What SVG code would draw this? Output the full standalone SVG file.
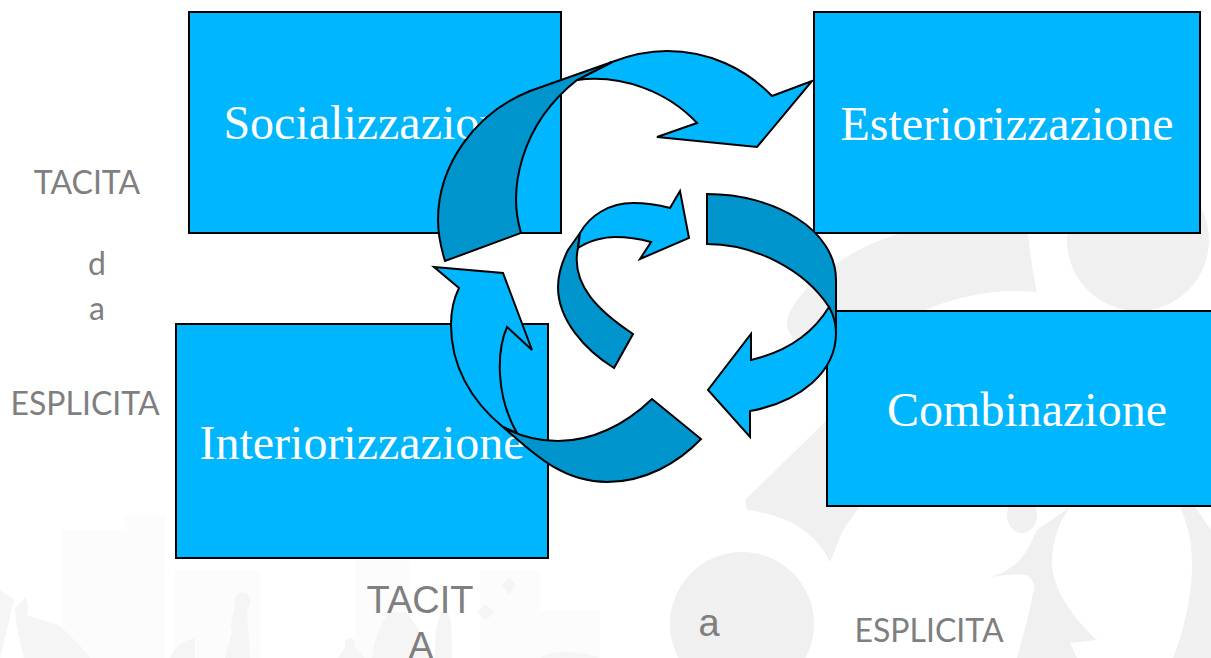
<svg xmlns="http://www.w3.org/2000/svg" width="1211" height="658" viewBox="0 0 1211 658">
<style>
.box{fill:#00b6ff;stroke:#000;stroke-width:2}
.t{font-family:"Liberation Serif",serif;font-size:48px;fill:#fff;text-anchor:middle}
.lab{font-family:Lato,"Liberation Sans",sans-serif;font-size:32px;fill:#7f7f7f;text-anchor:middle}
.lab2{font-family:"Liberation Sans",sans-serif;font-size:38px;fill:#7f7f7f;text-anchor:middle}
.l{fill:#00b6ff;stroke:#000;stroke-width:2;stroke-linejoin:miter}
.d{fill:#0094cc;stroke:#000;stroke-width:2;stroke-linejoin:miter}
.wm{fill:#f0f0f0}
.wf{fill:#f5f5f5}
.wb{fill:#fcfcfc}
</style>
<g id="background">
<path class="wb" d="M62 658V530H125V515H165V658ZM175 658V570H260V658ZM355 658V560H410V658ZM480 658V570H540V610H600V658Z"/>
<path class="wf" d="M0 590L14 600L0 658ZM15 608L25 598C30 603 28 612 26 615L58 625C70 635 85 650 90 658H24C20 640 15 625 15 608ZM170 658C175 645 185 640 195 638V658ZM234 600C236 590 250 590 250 600C250 608 247 606 247 612L250 658H225L232 632C228 620 238 610 234 600Z"/>
<path class="wf" d="M345 647C343 635 357 635 355 647L365 658H338ZM372 658C375 635 385 615 390 612H405C415 620 425 640 430 658ZM435 658C435 630 438 612 445 612C452 612 452 630 452 658ZM509 578L516 585L509 595L502 585ZM485 605L495 612L485 620L477 612ZM540 658C550 650 580 650 600 658Z"/>
<circle class="wm" cx="742" cy="624" r="72"/>
<circle class="wm" cx="1138" cy="240" r="71"/>
<path class="wm" d="M1028 230C1030 255 1033 275 1037 292C1000 288 960 295 925 310L828 350C815 350 805 345 800 342C785 335 785 322 790 312C800 290 840 250 905 232Z"/>
<path class="wm" d="M745 500L827 420L860 430V506L843 530L830 562C815 530 785 515 747 510Z"/>
<path class="wm" d="M1070 507L1037 530C1030 545 1025 555 1017 563C1008 570 998 575 990 577C1005 575 1018 574 1027 575C1036 582 1035 590 1033 593C1028 620 1022 640 1017 658H1077L1070 643L1097 640C1075 620 1052 590 1052 563C1052 540 1060 520 1070 507Z"/>
<path class="wm" d="M1180 507C1190 530 1192 545 1192 567C1192 590 1185 630 1173 658H1211V530L1195 507Z"/>
<ellipse class="wm" cx="1022" cy="515" rx="15" ry="18"/>
</g>
<g id="socializzazione"><rect class="box" x="189" y="12" width="372" height="221"/><text class="t" x="374" y="139">Socializzazione</text></g>
<g id="esteriorizzazione"><rect class="box" x="814" y="12" width="386" height="221"/><text class="t" x="1007" y="140">Esteriorizzazione</text></g>
<g id="interiorizzazione"><rect class="box" x="176" y="324" width="372" height="234"/><text class="t" x="362" y="459">Interiorizzazione</text></g>
<g id="combinazione"><rect class="box" x="827" y="311" width="390" height="195"/><text class="t" x="1027" y="426">Combinazione</text></g>
<g id="connectors">
<path class="l" d="M577 80L612 62C630 55 648 51 667 51C708 51 745 68 772 96L812 81L757 147L657 137L697 123C668 92 622 74 577 80Z"/>
<path class="d" d="M612 62L530 91C475 113 438 165 438 220C438 235 441 248 445 261L521 233C508 190 520 125 577 80Z"/>
<path class="l" d="M434 267L503 273L532 350L507 327C497 350 495 395 517 433L503 427C470 400 451 365 451 325C451 312 454 298 459 288Z"/>
<path class="d" d="M503 427C530 450 560 482 607 482C645 482 678 463 701 439L652 399C625 425 592 441 558 441C538 441 518 435 503 427Z"/>
<path class="d" d="M707 194V244C755 244 805 270 829 307L836 330V280C836 230 775 194 707 194Z"/>
<path class="l" d="M829 307C812 335 785 352 751 360V334L708 390L750 437V411C800 402 836 372 836 333C836 322 833 314 829 307Z"/>
<path class="d" d="M580 233L568 250C562 262 558 275 558 287C558 320 585 350 614 368L633 334C600 312 570 285 578 248Z"/>
<path class="l" d="M578 248C590 240 605 237 615 237C628 237 640 239 651 242L640 259L689 238L680 191L670 208C655 204 645 203 633 203C610 203 590 215 580 233Z"/>
</g>
<g id="labels">
<text class="lab" x="87" y="194">TACITA</text>
<text class="lab" x="97" y="275">d</text>
<text class="lab" x="97" y="320">a</text>
<text class="lab" x="85" y="415">ESPLICITA</text>
<text class="lab2" x="420" y="613">TACIT</text>
<text class="lab2" x="421" y="659">A</text>
<text class="lab2" x="709" y="636">a</text>
<text class="lab" x="929" y="642">ESPLICITA</text>
</g>
</svg>
